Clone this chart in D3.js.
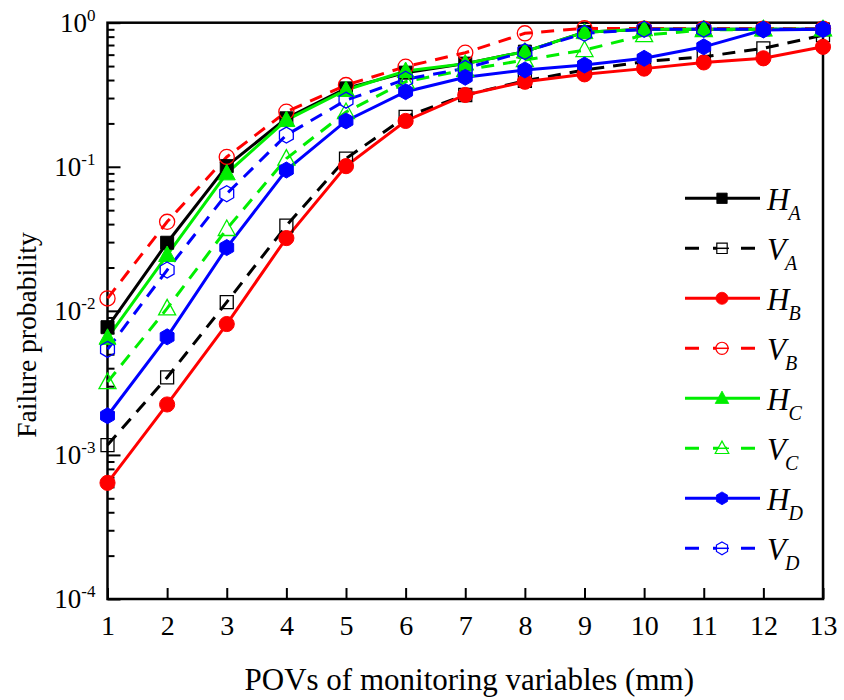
<!DOCTYPE html>
<html>
<head>
<meta charset="utf-8">
<script src="https://cdn.jsdelivr.net/npm/d3@7"></script>
<style>
  body { margin: 0; background: #fff; }
  svg text { font-family: "Liberation Serif", "Times New Roman", serif; fill: #000; }
</style>
</head>
<body>
<div id="chart"></div>
<script>
// POVs (mm)
const povs = [1, 2, 3, 4, 5, 6, 7, 8, 9, 10, 11, 12, 13];

// failure probabilities
const hA = [0.0077, 0.0297, 0.101, 0.217, 0.35, 0.45, 0.52, 0.63, 0.86, 0.9, 0.9, 0.9, 0.9];
const vA = [0.00117, 0.00345, 0.0115, 0.039, 0.114, 0.222, 0.315, 0.395, 0.47, 0.537, 0.58, 0.664, 0.82];
const hB = [0.00064, 0.00224, 0.0081, 0.032, 0.101, 0.208, 0.315, 0.389, 0.438, 0.48, 0.53, 0.566, 0.68];
const vB = [0.0122, 0.0415, 0.117, 0.241, 0.369, 0.495, 0.619, 0.844, 0.914, 0.91, 0.91, 0.91, 0.91];
const hC = [0.0065, 0.0244, 0.09, 0.211, 0.341, 0.462, 0.52, 0.63, 0.86, 0.9, 0.9, 0.9, 0.9];
const vC = [0.0032, 0.0104, 0.037, 0.114, 0.24, 0.39, 0.47, 0.55, 0.646, 0.82, 0.89, 0.9, 0.9];
const hD = [0.00187, 0.0066, 0.0275, 0.095, 0.208, 0.332, 0.418, 0.47, 0.508, 0.566, 0.68, 0.89, 0.9];
const vD = [0.0054, 0.0192, 0.065, 0.166, 0.29, 0.405, 0.482, 0.63, 0.844, 0.9, 0.9, 0.9, 0.9];

const yTicks = [1e-4, 1e-3, 1e-2, 1e-1, 1];
const yExps = ["-4", "-3", "-2", "-1", "0"];

const series = [
  { main: "H", sub: "A", values: hA, color: "#000000", dashed: false, shape: "square" },
  { main: "V", sub: "A", values: vA, color: "#000000", dashed: true, shape: "square" },
  { main: "H", sub: "B", values: hB, color: "#ff0000", dashed: false, shape: "circle" },
  { main: "V", sub: "B", values: vB, color: "#ff0000", dashed: true, shape: "circle" },
  { main: "H", sub: "C", values: hC, color: "#00ee00", dashed: false, shape: "triangle" },
  { main: "V", sub: "C", values: vC, color: "#00ee00", dashed: true, shape: "triangle" },
  { main: "H", sub: "D", values: hD, color: "#0000ff", dashed: false, shape: "hexagon" },
  { main: "V", sub: "D", values: vD, color: "#0000ff", dashed: true, shape: "hexagon" }
];

const margin = { top: 22.7, right: 21, bottom: 101, left: 107.5 };
const width = 844 - margin.left - margin.right;
const height = 700 - margin.top - margin.bottom;

const svg = d3.select("#chart")
  .append("svg")
  .attr("width", 844)
  .attr("height", 700);

const g = svg.append("g")
  .attr("transform", `translate(${margin.left},${margin.top})`);

const x = d3.scaleLinear().domain([1, 13]).range([0, width]);
const y = d3.scaleLog().domain([1e-4, 1]).range([height, 0]);

// minor ticks on y
const minor = [];
for (let e = -4; e < 0; e++) {
  for (let m = 2; m <= 9; m++) minor.push(m * Math.pow(10, e));
}

g.append("g")
  .call(d3.axisLeft(y).tickValues(minor).tickSize(-7).tickFormat(""))
  .call(a => a.select(".domain").remove())
  .selectAll("line").attr("stroke-width", 2);

g.append("g")
  .call(d3.axisLeft(y).tickValues(yTicks).tickSize(-13).tickFormat(""))
  .call(a => a.select(".domain").remove())
  .selectAll("line").attr("stroke-width", 2);

// y tick labels with superscripts
const yLab = g.append("g").selectAll("text")
  .data(yTicks)
  .join("text")
  .attr("x", -12)
  .attr("y", d => y(d) + 9)
  .attr("text-anchor", "end")
  .style("font-size", "27px");
yLab.append("tspan").text("10");
yLab.append("tspan")
  .attr("dy", -11)
  .style("font-size", "17px")
  .text((d, i) => yExps[i]);

// x axis
const xAxis = g.append("g")
  .attr("transform", `translate(0,${height})`)
  .call(d3.axisBottom(x).tickValues(povs).tickSize(-11).tickPadding(16).tickFormat(d3.format("d")));
xAxis.select(".domain").remove();
xAxis.selectAll("line").attr("stroke-width", 2);
xAxis.selectAll("text")
  .style("font-size", "28px")
  .style("font-family", "Liberation Serif, serif");

// frame
g.append("rect")
  .attr("width", width)
  .attr("height", height)
  .attr("fill", "none")
  .attr("stroke", "#000")
  .attr("stroke-width", 2.5);

// axis titles
svg.append("text")
  .attr("x", margin.left + width / 2 + 4)
  .attr("y", 690)
  .attr("text-anchor", "middle")
  .style("font-size", "31px")
  .text("POVs of monitoring variables (mm)");

svg.append("text")
  .attr("transform", `translate(36,${335}) rotate(-90)`)
  .attr("text-anchor", "middle")
  .style("font-size", "27.5px")
  .text("Failure probability");

// marker paths
function markerPath(shape) {
  if (shape === "square") return "M-6.5,-6.5H6.5V6.5H-6.5Z";
  if (shape === "circle") return d3.symbol(d3.symbolCircle, 180)();
  if (shape === "triangle") return "M0,-9L8.5,6.5H-8.5Z";
  const r = 8;
  const pts = d3.range(6).map(i => {
    const a = Math.PI / 3 * i - Math.PI / 2;
    return [r * Math.cos(a), r * Math.sin(a)];
  });
  return "M" + pts.map(p => p.join(",")).join("L") + "Z";
}

const line = d3.line()
  .x((d, i) => x(povs[i]))
  .y(d => y(d));

const plot = g.append("g");

series.forEach(s => {
  plot.append("path")
    .attr("fill", "none")
    .attr("stroke", s.color)
    .attr("stroke-width", 3)
    .attr("stroke-dasharray", s.dashed ? "13,9" : null)
    .attr("d", line(s.values));
});

series.forEach(s => {
  plot.selectAll(null)
    .data(s.values)
    .join("path")
    .attr("transform", (d, i) => `translate(${x(povs[i])},${y(d)})`)
    .attr("d", markerPath(s.shape))
    .attr("fill", s.dashed ? "none" : s.color)
    .attr("stroke", s.color)
    .attr("stroke-width", s.dashed ? 1.3 : 1);
});

// legend
const legend = svg.append("g")
  .selectAll("g")
  .data(series)
  .join("g")
  .attr("transform", (d, i) => `translate(685,${198.3 + i * 50})`);

legend.append("line")
  .attr("x1", 0)
  .attr("x2", 75)
  .attr("stroke", d => d.color)
  .attr("stroke-width", 3)
  .attr("stroke-dasharray", d => d.dashed ? "14,14" : null);

legend.append("path")
  .attr("transform", "translate(37,0) scale(0.8)")
  .attr("d", d => markerPath(d.shape))
  .attr("fill", d => d.dashed ? "#fff" : d.color)
  .attr("stroke", d => d.color)
  .attr("stroke-width", d => d.dashed ? 1.5 : 1);

legend.filter(d => d.dashed).append("line")
  .attr("x1", 30)
  .attr("x2", 44)
  .attr("stroke", d => d.color)
  .attr("stroke-width", 1.5);

const lt = legend.append("text")
  .attr("x", 82)
  .attr("y", 12)
  .style("font-size", "31px")
  .style("font-style", "italic");
lt.append("tspan").text(d => d.main);
lt.append("tspan")
  .attr("dy", 10)
  .attr("dx", -1)
  .style("font-size", "20px")
  .text(d => d.sub);
</script>
</body>
</html>
